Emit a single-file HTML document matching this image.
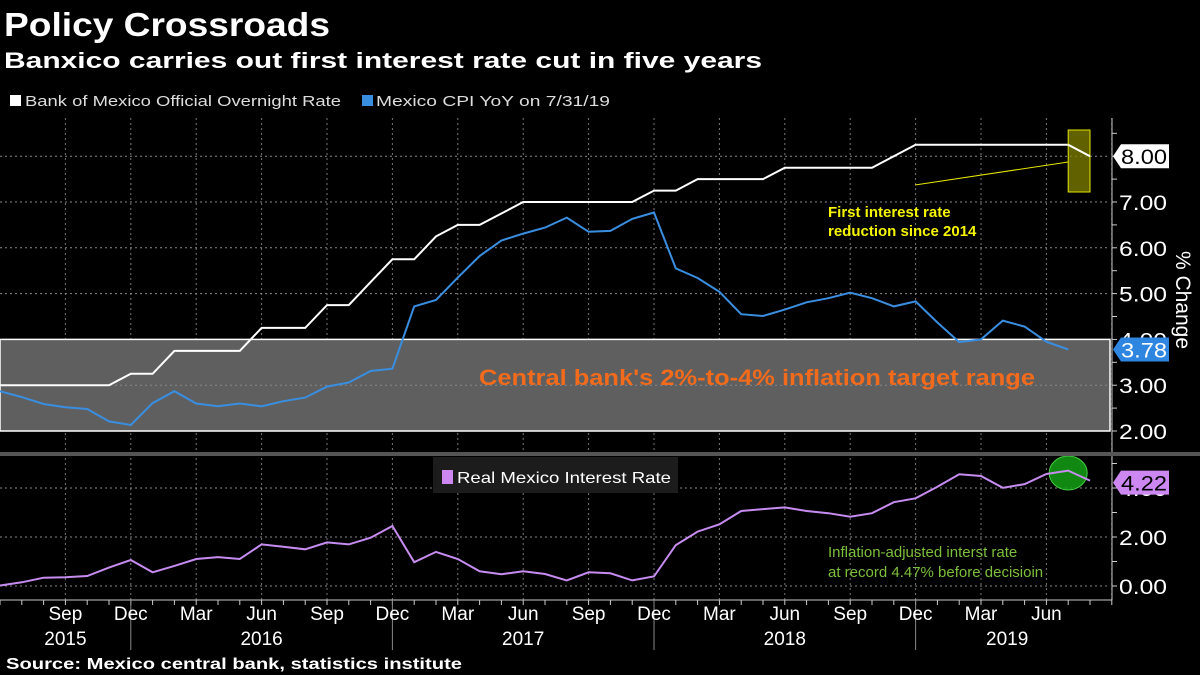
<!DOCTYPE html>
<html><head><meta charset="utf-8"><style>
html,body{margin:0;padding:0;background:#000;}
svg{display:block;font-family:"Liberation Sans",sans-serif;}
</style></head><body>
<svg id="chart" width="1200" height="675" viewBox="0 0 1200 675" xmlns="http://www.w3.org/2000/svg">
<rect width="1200" height="675" fill="#000"/>
<text x="4" y="36" fill="#fff" font-size="33" font-weight="bold" textLength="326" lengthAdjust="spacingAndGlyphs">Policy Crossroads</text>
<text x="4" y="68" fill="#fff" font-size="22" font-weight="bold" textLength="758" lengthAdjust="spacingAndGlyphs">Banxico carries out first interest rate cut in five years</text>
<g>
<rect x="10" y="95" width="11" height="11" fill="#fff"/>
<text x="25" y="106" fill="#ddd" font-size="15" textLength="316" lengthAdjust="spacingAndGlyphs">Bank of Mexico Official Overnight Rate</text>
<rect x="362" y="95" width="11" height="11" fill="#3a8ee0"/>
<text x="376" y="106" fill="#ddd" font-size="15" textLength="234" lengthAdjust="spacingAndGlyphs">Mexico CPI YoY  on 7/31/19</text>
</g>
<g id="topPanel"></g>
<g id="bottomPanel"></g>
<rect x="0" y="452" width="1200" height="4" fill="#555"/>
<g id="xaxis"></g>
<text x="6" y="669" fill="#fff" font-size="16" font-weight="bold" textLength="456" lengthAdjust="spacingAndGlyphs">Source: Mexico central bank, statistics institute</text>
</svg>
<script>
const rateValues=[3,3,3,3,3,3,3.25,3.25,3.75,3.75,3.75,3.75,4.25,4.25,4.25,4.75,4.75,5.25,5.75,5.75,6.25,6.5,6.5,6.75,7,7,7,7,7,7,7.25,7.25,7.5,7.5,7.5,7.5,7.75,7.75,7.75,7.75,7.75,8,8.25,8.25,8.25,8.25,8.25,8.25,8.25,8.25,8];
const cpiValues=[2.87,2.74,2.59,2.52,2.48,2.21,2.13,2.61,2.87,2.60,2.54,2.60,2.54,2.65,2.73,2.97,3.06,3.31,3.36,4.72,4.86,5.35,5.82,6.16,6.31,6.44,6.66,6.35,6.37,6.63,6.77,5.55,5.34,5.04,4.55,4.51,4.65,4.81,4.90,5.02,4.90,4.72,4.83,4.37,3.94,4.00,4.41,4.28,3.95,3.78];
const realValues=[0.02,0.15,0.34,0.36,0.41,0.75,1.06,0.56,0.82,1.10,1.18,1.10,1.70,1.60,1.50,1.78,1.70,1.97,2.45,0.97,1.39,1.10,0.60,0.48,0.60,0.49,0.23,0.56,0.52,0.23,0.39,1.67,2.22,2.52,3.06,3.14,3.21,3.06,2.97,2.83,2.97,3.42,3.58,4.05,4.56,4.49,4.01,4.16,4.57,4.71,4.30];
const topTicks=["2.00","3.00","4.00","5.00","6.00","7.00","8.00"];
const bottomTicks=["0.00","2.00","4.00"];
const monthLabels=["Sep","Dec","Mar","Jun","Sep","Dec","Mar","Jun","Sep","Dec","Mar","Jun","Sep","Dec","Mar","Jun"];
const monthIndex=[3,6,9,12,15,18,21,24,27,30,33,36,39,42,45,48];
const yearLabels=["2015","2016","2017","2018","2019"];
const yearCenters=[3,12,24,36,46.2];
const NS="http://www.w3.org/2000/svg";
const X=i=>i*21.8;
const YT=v=>431-(v-2)*45.8;
const YB=v=>586-v*24.5;
function mk(tag,attrs,parent){const e=document.createElementNS(NS,tag);for(const k in attrs)e.setAttribute(k,attrs[k]);parent.appendChild(e);return e;}
const topG=document.getElementById('topPanel'),bot=document.getElementById('bottomPanel'),xa=document.getElementById('xaxis');
for(let i=3;i<=51;i+=3){
 const g1=mk('line',{x1:X(i),x2:X(i),y1:118,y2:450,stroke:'#777','stroke-width':1,'stroke-dasharray':'2,3'},topG);
 
 
 const g2=mk('line',{x1:X(i),x2:X(i),y1:458,y2:600,stroke:'#777','stroke-width':1,'stroke-dasharray':'2,3'},bot);
 
 
}
const band=mk('rect',{x:0,y:YT(4),width:1110,height:YT(2)-YT(4),fill:'#5f5f5f',stroke:'#fff','stroke-width':1.5},topG);


topTicks.forEach(t=>{const v=parseFloat(t);if(v===2||v===4)return;
 const l=mk('line',{x1:0,x2:1110,y1:YT(v),y2:YT(v),stroke:'#888','stroke-width':1,'stroke-dasharray':'2,3'},topG);
 
 
});
const bt=mk('text',{x:757,y:385,fill:'#f26a1b','font-size':22,'font-weight':'bold','text-anchor':'middle',textLength:556,lengthAdjust:'spacingAndGlyphs'},topG);
bt.textContent="Central bank's 2%-to-4% inflation target range";


mk('line',{x1:1112,x2:1112,y1:118,y2:452,stroke:'#ccc','stroke-width':1},topG);
for(let v=2;v<=8.5;v+=0.5){mk('line',{x1:1112,x2:1117,y1:YT(v),y2:YT(v),stroke:'#ccc'},topG);}
topTicks.forEach(t=>{const tx=mk('text',{x:1119,y:YT(parseFloat(t))+8,fill:'#fff','font-size':21,textLength:48,lengthAdjust:'spacingAndGlyphs'},topG);tx.textContent=t;
 
 });
const yt=mk('text',{x:0,y:0,fill:'#fff','font-size':21,'text-anchor':'middle',transform:'translate(1176,300) rotate(90)'},topG);
yt.textContent='% Change';


const path=(vals,fy)=>vals.map((v,i)=>(i?'L':'M')+X(i).toFixed(1)+','+fy(v).toFixed(1)).join('');
const cpi=mk('path',{d:path(cpiValues,YT),fill:'none',stroke:'#3a8ee0','stroke-width':2},topG);


const rate=mk('path',{d:path(rateValues,YT),fill:'none',stroke:'#fff','stroke-width':2},topG);


const lr=rateValues.length-1;
const hb=mk('rect',{x:X(lr-1),y:130,width:X(1),height:62,fill:'rgba(130,130,0,0.75)',stroke:'#e6e600','stroke-width':1},topG);


mk('path',{d:'M'+X(lr-1)+','+YT(rateValues[lr-1])+'L'+X(lr)+','+YT(rateValues[lr]),stroke:'#fff','stroke-width':2},topG);
mk('line',{x1:915,y1:185,x2:X(lr-1),y2:162,stroke:'#e6e600','stroke-width':1},topG);
const a1=mk('text',{x:828,y:217,fill:'#f5f500','font-size':15,'font-weight':'bold'},topG);a1.textContent='First interest rate';


const a2=mk('text',{x:828,y:236,fill:'#f5f500','font-size':15,'font-weight':'bold'},topG);a2.textContent='reduction since 2014';


function tag(parent,v,y,bg,fg,name){
 const g=mk('g',{},parent);
 
 
 mk('path',{d:`M1113,${y} L1121,${y-12} L1169,${y-12} L1169,${y+12} L1121,${y+12} Z`,fill:bg},g);
 const t=mk('text',{x:1121,y:y+8,fill:fg,'font-size':21,textLength:46,lengthAdjust:'spacingAndGlyphs'},g);t.textContent=v.toFixed(2);
}
tag(topG,rateValues[lr],YT(rateValues[lr]),'#fff','#000','rate-value-tag');
tag(topG,cpiValues[cpiValues.length-1],YT(cpiValues[cpiValues.length-1]),'#2f86e0','#fff','cpi-value-tag');
bottomTicks.forEach(t=>{const v=parseFloat(t);
 const l=mk('line',{x1:0,x2:1110,y1:YB(v),y2:YB(v),stroke:'#888','stroke-dasharray':'2,3'},bot);
 
 
});
mk('line',{x1:1112,x2:1112,y1:456,y2:600,stroke:'#ccc'},bot);
for(let v=0;v<=5;v+=1){mk('line',{x1:1112,x2:1117,y1:YB(v),y2:YB(v),stroke:'#ccc'},bot);}
bottomTicks.forEach(t=>{const tx=mk('text',{x:1119,y:YB(parseFloat(t))+8,fill:'#fff','font-size':21,textLength:48,lengthAdjust:'spacingAndGlyphs'},bot);tx.textContent=t;
 
 });
const lg=mk('g',{},bot);


mk('rect',{x:433,y:457,width:245,height:36,fill:'#1c1c1c'},lg);
mk('rect',{x:442,y:470,width:11,height:14,fill:'#cc88f0'},lg);
const lt=mk('text',{x:457,y:483,fill:'#fff','font-size':16,textLength:214,lengthAdjust:'spacingAndGlyphs'},lg);lt.textContent='Real Mexico Interest Rate';
const circ=mk('ellipse',{cx:X(realValues.length-2),cy:473,rx:19,ry:17,fill:'rgba(20,160,20,0.85)',stroke:'#44cc44'},bot);


const real=mk('path',{d:path(realValues,YB),fill:'none',stroke:'#c68cf0','stroke-width':2},bot);


tag(bot,4.22,YB(4.22),'#cc88f0','#000','real-rate-value-tag');
const g1=mk('text',{x:828,y:557,fill:'#7cbf3a','font-size':15},bot);g1.textContent='Inflation-adjusted interst rate';


const g2=mk('text',{x:828,y:577,fill:'#7cbf3a','font-size':15},bot);g2.textContent='at record 4.47% before decisioin';


mk('line',{x1:0,x2:1112,y1:600,y2:600,stroke:'#ccc'},xa);
for(let i=0;i<=51;i++){mk('line',{x1:X(i),x2:X(i),y1:600,y2:605,stroke:'#ccc'},xa);}
[6,18,30,42].forEach(i=>{const s=mk('line',{x1:X(i),x2:X(i),y1:600,y2:650,stroke:'#888'},xa);
 
 });
monthLabels.forEach((m,k)=>{const t=mk('text',{x:X(monthIndex[k]),y:620,fill:'#fff','font-size':19,'text-anchor':'middle'},xa);t.textContent=m;
 
 });
yearLabels.forEach((y,k)=>{const t=mk('text',{x:X(yearCenters[k]),y:645,fill:'#fff','font-size':19,'text-anchor':'middle'},xa);t.textContent=y;
 
 });
</script>
</body></html>
